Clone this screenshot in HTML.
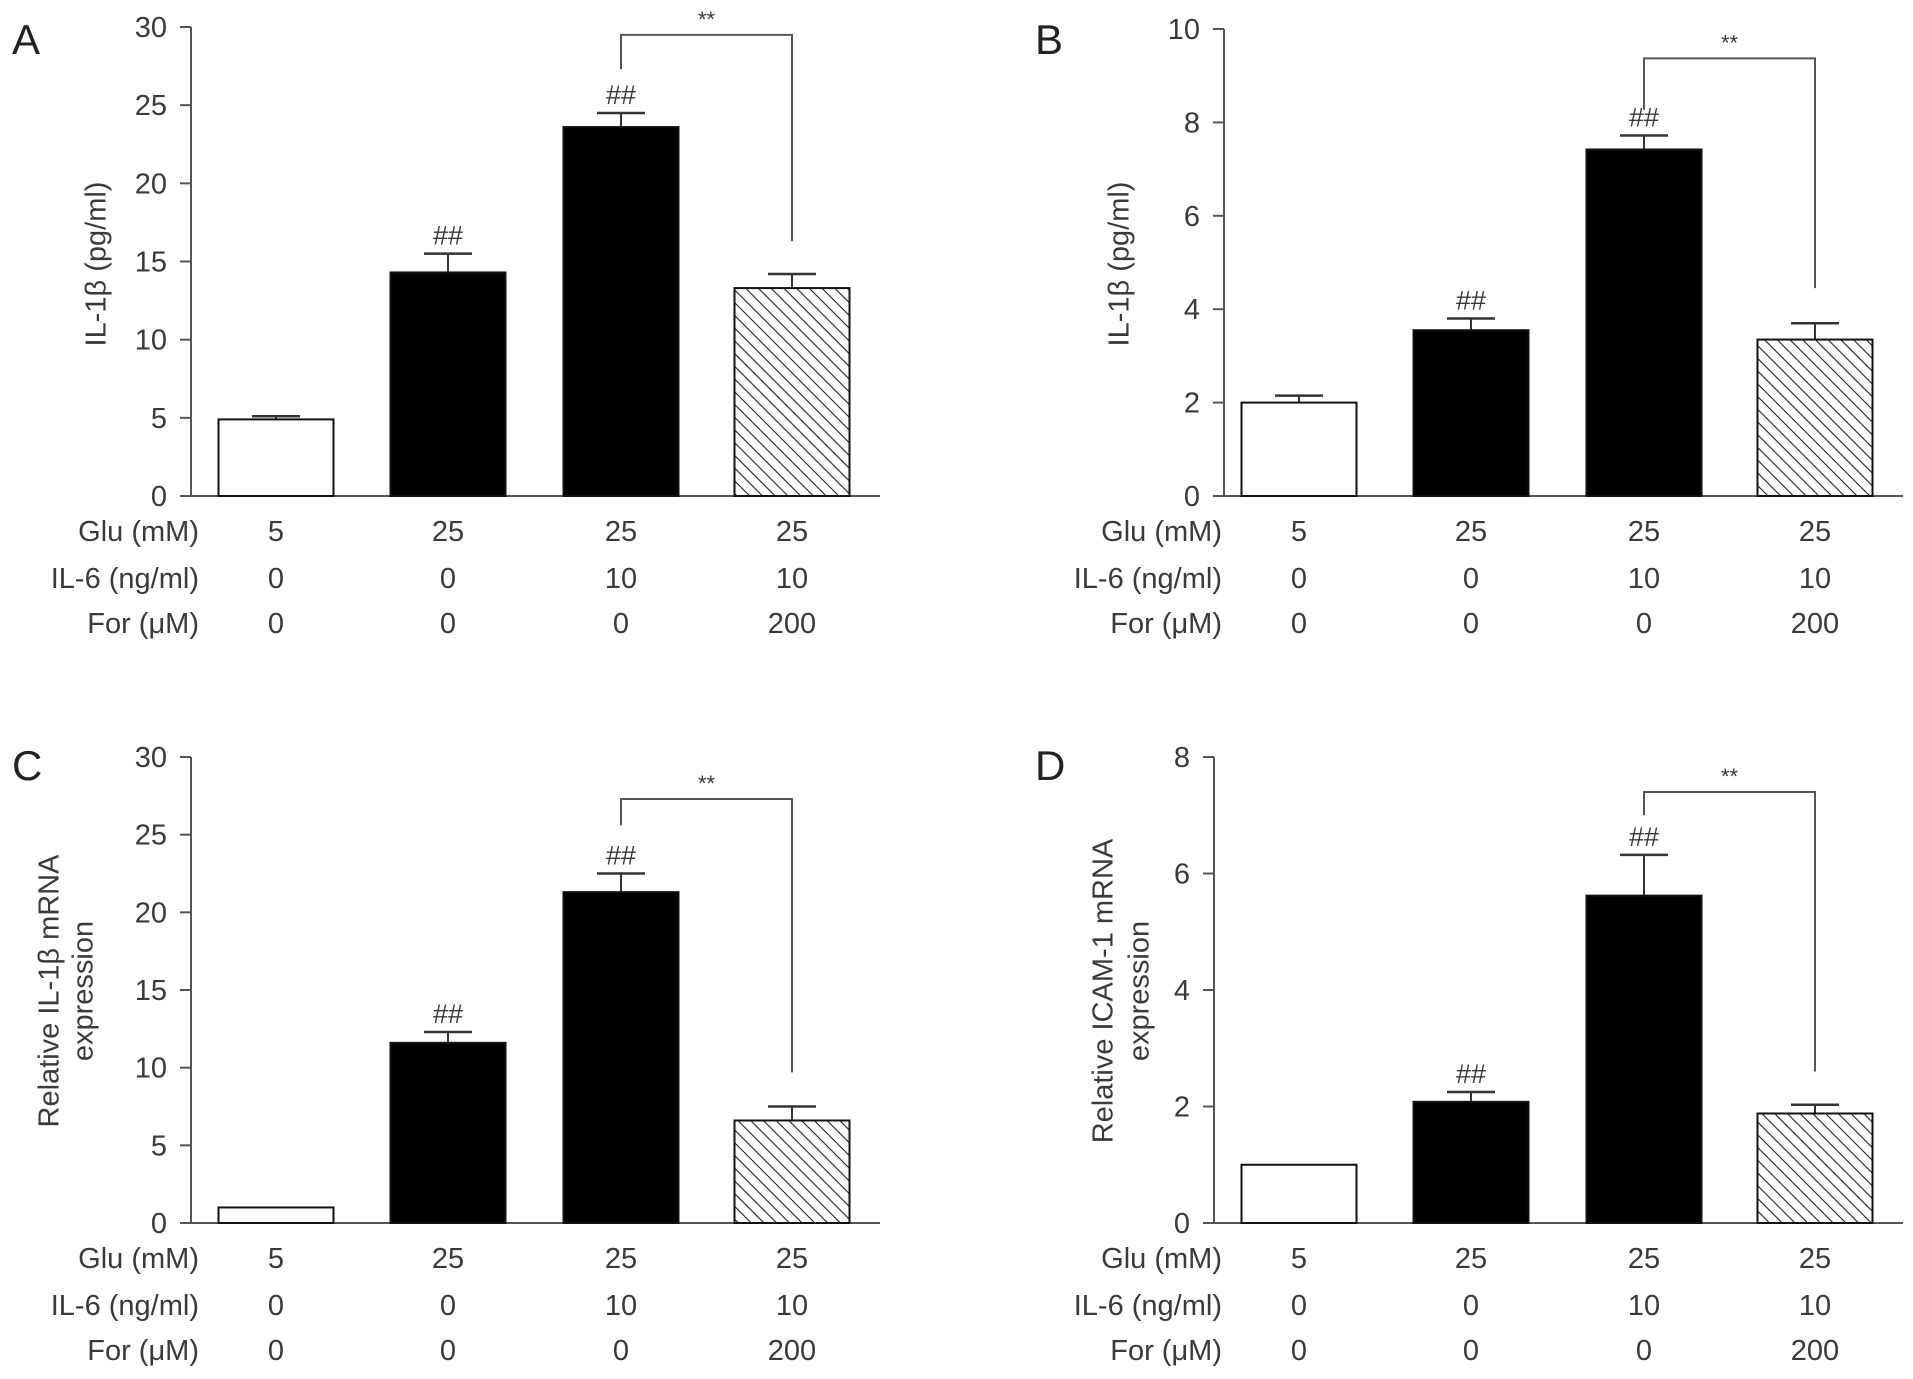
<!DOCTYPE html>
<html><head><meta charset="utf-8">
<style>
html,body{margin:0;padding:0;background:#fff;}
svg{display:block;font-family:"Liberation Sans",Arial,sans-serif;}
</style></head>
<body>
<svg id="fig" width="1913" height="1379" viewBox="0 0 1913 1379" xmlns="http://www.w3.org/2000/svg">
<defs>
<pattern id="hatch" patternUnits="userSpaceOnUse" width="9" height="9" patternTransform="rotate(45)">
<rect width="9" height="9" fill="#fff"/>
<line x1="0" y1="0" x2="9" y2="0" stroke="#222" stroke-width="2.2"/>
</pattern>
</defs>
</svg>
<script>
// ---- data ----
const groups = ["Glu 5", "Glu 25", "Glu 25 + IL-6", "Glu 25 + IL-6 + For"];
const rowLabels = ["Glu (mM)", "IL-6 (ng/ml)", "For (\u03bcM)"];
const rowGlu = ["5", "25", "25", "25"];
const rowIL6 = ["0", "0", "10", "10"];
const rowFor = ["0", "0", "0", "200"];

const valuesA = [4.9, 14.3, 23.6, 13.3];
const errorsA = [0.2, 1.2, 0.9, 0.9];
const ticksA = [0, 5, 10, 15, 20, 25, 30];

const valuesB = [2.0, 3.55, 7.42, 3.35];
const errorsB = [0.15, 0.25, 0.3, 0.35];
const ticksB = [0, 2, 4, 6, 8, 10];

const valuesC = [1.0, 11.6, 21.3, 6.6];
const errorsC = [0, 0.7, 1.2, 0.9];
const ticksC = [0, 5, 10, 15, 20, 25, 30];

const valuesD = [1.0, 2.08, 5.62, 1.88];
const errorsD = [0, 0.17, 0.7, 0.15];
const ticksD = [0, 2, 4, 6, 8];

const svg = document.getElementById('fig');
const NS = 'http://www.w3.org/2000/svg';
function mk(tag, attrs, parent){
  const e = document.createElementNS(NS, tag);
  for (const k in attrs) e.setAttribute(k, attrs[k]);
  (parent||svg).appendChild(e);
  return e;
}
const AX = '#555', TX = '#3a3a3a';

function drawPanel(p){
  const g = mk('g', {});
  
  
  const ymax = p.ticks[p.ticks.length-1];
  const y = v => p.y0 - (v / ymax) * (p.y0 - p.yTop);
  const centers = [p.ox + 276, p.ox + 448, p.ox + 621, p.ox + 792];
  const bw = 115;

  const lt = mk('text', {x: p.ox + 12, y: p.letterY, 'font-size': 42, fill: '#222'}, g);
  lt.textContent = p.letter;
  
  

  const ya = mk('line', {x1: p.axisX, y1: y(ymax), x2: p.axisX, y2: p.y0, stroke: AX, 'stroke-width': 2}, g);
  
  
  const xa = mk('line', {x1: p.axisX, y1: p.y0, x2: p.ox + 880, y2: p.y0, stroke: AX, 'stroke-width': 2}, g);
  
  
  p.ticks.forEach(t => {
    mk('line', {x1: p.axisX - 11, y1: y(t), x2: p.axisX, y2: y(t), stroke: AX, 'stroke-width': 2}, g);
    const tl = mk('text', {x: p.axisX - 24, y: y(t) + 10, 'font-size': 29, 'text-anchor': 'end', fill: TX}, g);
    tl.textContent = t;
    
    
  });

  const ty = p.y0 - 232;
  p.title.forEach((line, i) => {
    const tx = p.axisX + p.titleDx[i];
    const tt = mk('text', {x: tx, y: ty, 'font-size': 29, 'text-anchor': 'middle', fill: TX, transform: `rotate(-90 ${tx} ${ty})`, 'dominant-baseline': 'middle'}, g);
    tt.textContent = line;
    
    
  });

  p.values.forEach((v, i) => {
    const cx = centers[i];
    const fill = i === 0 ? '#fff' : (i === 3 ? 'url(#hatch)' : '#000');
    const e = p.errors[i];
    if (e > 0) {
      mk('line', {x1: cx, y1: y(v), x2: cx, y2: y(v + e), stroke: '#333', 'stroke-width': 2}, g);
      mk('line', {x1: cx - 24, y1: y(v + e), x2: cx + 24, y2: y(v + e), stroke: '#333', 'stroke-width': 2.5}, g);
    }
    const r = mk('rect', {x: cx - bw/2, y: y(v), width: bw, height: p.y0 - y(v), fill: fill, stroke: '#111', 'stroke-width': 2}, g);
    
    
    if (i === 1 || i === 2) {
      const h = mk('text', {x: cx, y: y(v + e) - 9, 'font-size': 27, 'text-anchor': 'middle', fill: TX}, g);
      h.textContent = '##';
      
      
    }
  });

  const bx1 = centers[2], bx2 = centers[3];
  const br = mk('path', {d: `M${bx1} ${y(p.br[1])} L${bx1} ${y(p.br[0])} L${bx2} ${y(p.br[0])} L${bx2} ${y(p.br[2])}`, fill: 'none', stroke: AX, 'stroke-width': 2}, g);
  
  
  const st = mk('text', {x: (bx1 + bx2)/2, y: y(p.br[0]) - 8, 'font-size': 22, 'text-anchor': 'middle', fill: TX}, g);
  st.textContent = '**';
  
  

  const rows = [rowGlu, rowIL6, rowFor];
  const rowDy = [45, 92, 137];
  rowLabels.forEach((lab, r) => {
    const yy = p.y0 + rowDy[r];
    const l = mk('text', {x: p.ox + 199, y: yy, 'font-size': 29, 'text-anchor': 'end', fill: TX}, g);
    l.textContent = lab;
    
    
    rows[r].forEach((val, i) => {
      const c = mk('text', {x: centers[i], y: yy, 'font-size': 29, 'text-anchor': 'middle', fill: TX}, g);
      c.textContent = val;
      
      
    });
  });
}

drawPanel({letter: 'A', ox: 0, axisX: 191, yTop: 27, y0: 496, letterY: 54, ticks: ticksA, values: valuesA, errors: errorsA, br: [29.5, 27.3, 16.3], title: ['IL-1\u03b2 (pg/ml)'], titleDx: [-93]});
drawPanel({letter: 'B', ox: 1023, axisX: 1224, yTop: 29, y0: 496, letterY: 54, ticks: ticksB, values: valuesB, errors: errorsB, br: [9.37, 8.27, 4.45], title: ['IL-1\u03b2 (pg/ml)'], titleDx: [-103]});
drawPanel({letter: 'C', ox: 0, axisX: 191, yTop: 757, y0: 1223, letterY: 780, ticks: ticksC, values: valuesC, errors: errorsC, br: [27.3, 25.6, 9.7], title: ['Relative IL-1\u03b2 mRNA', 'expression'], titleDx: [-140, -106]});
drawPanel({letter: 'D', ox: 1023, axisX: 1214, yTop: 757, y0: 1223, letterY: 780, ticks: ticksD, values: valuesD, errors: errorsD, br: [7.4, 7.0, 2.6], title: ['Relative ICAM-1 mRNA', 'expression'], titleDx: [-109, -73]});
</script>
</body></html>
